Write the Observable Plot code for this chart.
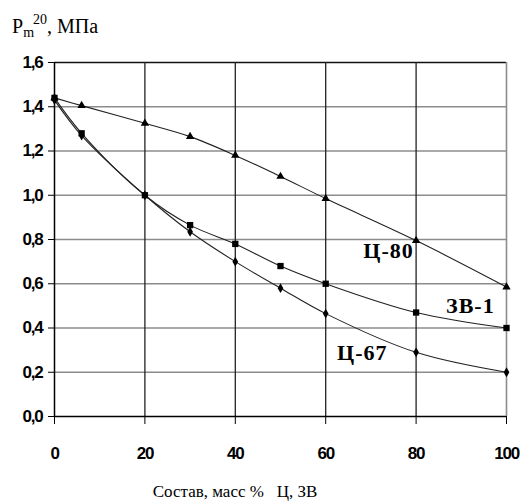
<!DOCTYPE html>
<html>
<head>
<meta charset="utf-8">
<script src="https://cdn.jsdelivr.net/npm/d3@7"></script>
<script src="https://cdn.jsdelivr.net/npm/@observablehq/plot@0.6"></script>
<style>
  html, body { margin: 0; padding: 0; background: #fff; }
  #chart svg { display: block; }
  [aria-label="x-axis tick label"] text, [aria-label="y-axis tick label"] text { letter-spacing: -1.2px; }
  .serieslabel text { letter-spacing: 1px; }
  .serif { font-family: "Liberation Serif", "Times New Roman", serif; }
</style>
</head>
<body>
<div id="chart"></div>
<script>
// Data
const composition = [0, 6, 20, 30, 40, 50, 60, 80, 100];
const c80 = [1.44, 1.405, 1.325, 1.265, 1.18, 1.085, 0.985, 0.795, 0.585];
const zv1 = [1.44, 1.28, 1.00, 0.865, 0.78, 0.68, 0.60, 0.47, 0.40];
const c67 = [1.43, 1.27, 1.00, 0.835, 0.70, 0.58, 0.465, 0.29, 0.20];
const seriesNames = ["Ц-80", "ЗВ-1", "Ц-67"];
const seriesSymbols = ["triangle", "square", "diamond"];
const seriesRadius = [3.4, 4.5, 3.2];
const xTicks = [0, 20, 40, 60, 80, 100];
const yTicks = [0, 0.2, 0.4, 0.6, 0.8, 1.0, 1.2, 1.4, 1.6];
const labelX = [73.9, 92, 68.1];
const labelY = [0.746, 0.50, 0.285];

const seriesValues = [c80, zv1, c67];
const rows = seriesValues.flatMap((vals, i) =>
  composition.map((x, j) => ({ series: seriesNames[i], x, y: vals[j], sym: seriesSymbols[i], r: seriesRadius[i] }))
);
const labels = seriesNames.map((name, i) => ({ name, x: labelX[i], y: labelY[i] }));
const fmt = d => d.toFixed(1).replace(".", ",");

const plot = Plot.plot({
  width: 524,
  height: 503,
  marginTop: 62,
  marginBottom: 87,
  marginLeft: 54,
  marginRight: 18,
  style: { background: "#fff", color: "#000" },
  x: { domain: [0, 100] },
  y: { domain: [0, 1.6] },
  marks: [
    Plot.ruleY(yTicks.filter(d => d > 0 && d < 1.6), { stroke: "#8c8c8c", strokeWidth: 1.6 }),
    Plot.ruleY([1.6], { stroke: "#111", strokeWidth: 1.3 }),
    Plot.ruleX(xTicks.filter(d => d > 0 && d < 100), { stroke: "#222", strokeWidth: 1.3 }),
    Plot.ruleX([100], { stroke: "#8c8c8c", strokeWidth: 1.6 }),
    Plot.ruleX([0], { stroke: "#000", strokeWidth: 1.5 }),
    Plot.ruleY([0], { stroke: "#000", strokeWidth: 1.5 }),
    Plot.line(rows, { x: "x", y: "y", z: "series", curve: "catmull-rom", stroke: "#222", strokeWidth: 1.1 }),
    Plot.dot(rows, { x: "x", y: "y", symbol: "sym", r: "r", fill: "#000", stroke: "none" }),
    Plot.text(labels, { x: "x", y: "y", text: "name", fontFamily: "Liberation Serif, Times New Roman, serif", fontWeight: "bold", fontSize: 22, fill: "#000", className: "serieslabel" }),
    Plot.axisX({ ticks: xTicks, tickSize: 8, tickPadding: 22, tickFormat: d => String(d), fontFamily: "Liberation Sans, Arial, sans-serif", fontWeight: "bold", fontSize: 17, label: null, stroke: "#000" }),
    Plot.axisY({ ticks: yTicks, tickSize: 6, tickPadding: 6, tickFormat: fmt, fontFamily: "Liberation Sans, Arial, sans-serif", fontWeight: "bold", fontSize: 17, label: null, stroke: "#000" })
  ]
});

const svg = d3.select(plot);
const yt = svg.append("text")
  .attr("class", "serif")
  .attr("x", 12).attr("y", 33)
  .attr("text-anchor", "start")
  .style("font-family", "'Liberation Serif', 'Times New Roman', serif")
  .style("font-size", "20px")
  .attr("fill", "#000");
yt.append("tspan").text("P");
yt.append("tspan").style("font-size", "14px").attr("dy", 4).text("m");
yt.append("tspan").style("font-size", "14px").attr("dy", -13).attr("dx", -1).text("20");
yt.append("tspan").attr("dy", 9).text(", МПа");

svg.append("text")
  .attr("class", "serif")
  .attr("x", 235).attr("y", 497)
  .attr("text-anchor", "middle")
  .style("font-family", "'Liberation Serif', 'Times New Roman', serif")
  .style("font-size", "17px")
  .attr("fill", "#000")
  .style("white-space", "pre")
  .text("Состав, масс %   Ц, ЗВ");

document.getElementById("chart").appendChild(plot);
</script>
</body>
</html>
